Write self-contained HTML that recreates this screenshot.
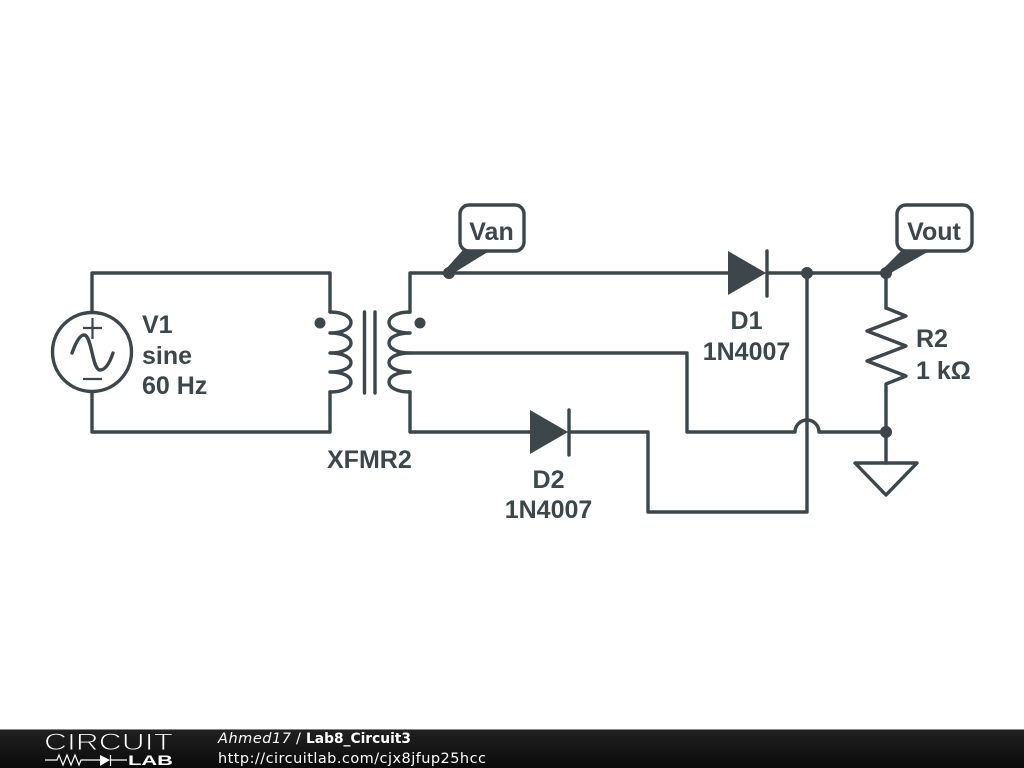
<!DOCTYPE html>
<html><head><meta charset="utf-8"><style>
html,body{margin:0;padding:0;background:#fff;width:1024px;height:768px;overflow:hidden}
svg{display:block}
.t{font:bold 25px "Liberation Sans",sans-serif;fill:#3d464b}
.f{font-family:"DejaVu Sans",sans-serif;font-size:14.5px;fill:#fff}
</style></head><body>
<svg width="1024" height="768" viewBox="0 0 1024 768" xmlns="http://www.w3.org/2000/svg">
<defs><linearGradient id="g" x1="0" y1="0" x2="0" y2="1"><stop offset="0" stop-color="#222"/><stop offset="1" stop-color="#0a0a0a"/></linearGradient></defs>
<g fill="none" stroke="#3d464b" stroke-width="3.4" stroke-linejoin="round" stroke-linecap="round">
<path d="M92 312V273H330V312M92 392V432H330V392"/>
<path d="M410 312V273H728M767 273H886V308M410 392V432H530M569 432H648V512H807V273"/>
<path d="M410 353H687V432H795A12 12 0 0 1 819 432H886"/>
<path d="M886 391V463"/>
<circle cx="92" cy="352" r="39.5"/>
<path d="M72 353C76 342 80 335 84 335C92 335 92 370 100 370C106 370 110 362 113 353"/>
<path d="M330 312C358 312 358 333 330 333C358 333 358 353 330 353C358 353 358 372 330 372C358 372 358 392 330 392"/>
<path d="M410 312C382 312 382 333 410 333C382 333 382 353 410 353C382 353 382 372 410 372C382 372 382 392 410 392"/>
<path d="M364.500 312V393M375 312V393"/>
<path d="M767 251V296M569 410V455"/>
<path d="M886 308L906 316L867 331L906 346L867 361L906 376L886 384V391"/>
<path d="M855 463H917L886 495Z"/>
<rect x="460" y="205" width="64" height="46" rx="9"/>
<rect x="897" y="205" width="75" height="46" rx="9"/>
</g>
<path d="M83 328H102M92.500 318V339M83 379H102" fill="none" stroke="#3d464b" stroke-width="2.2"/>
<g fill="#3d464b">
<path d="M728 251L766 273L728 295Z"/>
<path d="M530 410L568 432L530 454Z"/>
<path d="M463 250L491 250L452 274L445 270Z"/>
<path d="M902 250L931 250L889 274L882 270Z"/>
<circle cx="320" cy="323" r="5.500"/>
<circle cx="420" cy="323" r="5.500"/>
<circle cx="449" cy="273" r="6"/>
<circle cx="807" cy="273" r="6"/>
<circle cx="886" cy="273" r="6"/>
<circle cx="886" cy="432" r="6"/>
</g>
<g class="t">
<text x="142" y="333">V1</text>
<text x="142" y="364">sine</text>
<text x="142" y="394">60 Hz</text>
<text x="327" y="468">XFMR2</text>
<text x="491.500" y="240" text-anchor="middle">Van</text>
<text x="934" y="240" text-anchor="middle">Vout</text>
<text x="746.500" y="329" text-anchor="middle">D1</text>
<text x="746.500" y="360" text-anchor="middle">1N4007</text>
<text x="548.500" y="488" text-anchor="middle">D2</text>
<text x="548.500" y="518" text-anchor="middle">1N4007</text>
<text x="916" y="347">R2</text>
<text x="916" y="379">1 kΩ</text>
</g>
<rect x="0" y="729" width="1024" height="39" fill="url(#g)"/>
<rect x="0" y="729" width="1024" height="1" fill="#888"/>
<text x="44" y="750" style="font:24px 'Liberation Sans',sans-serif;fill:#fff;stroke:#181818;stroke-width:.9;paint-order:fill stroke" textLength="129" lengthAdjust="spacingAndGlyphs">CIRCUIT</text>
<g fill="none" stroke="#fff" stroke-width="1.2">
<path d="M45 760H57L59 755L63 765L67 755L71 765L75 755L79 765L81 760H100M110 760H127M110.500 755V766"/>
</g>
<path d="M100 755L110 760L100 766Z" fill="#fff"/>
<text x="128" y="765" style="font:bold 14px 'Liberation Sans',sans-serif;fill:#fff" textLength="45" lengthAdjust="spacingAndGlyphs">LAB</text>
<text class="f" x="218" y="743" font-style="italic" textLength="73">Ahmed17</text>
<text class="f" x="296" y="743">/</text>
<text class="f" x="306" y="743" font-weight="bold" textLength="105" lengthAdjust="spacingAndGlyphs">Lab8_Circuit3</text>
<text class="f" x="218" y="763" textLength="268">http://circuitlab.com/cjx8jfup25hcc</text>
</svg>
</body></html>
